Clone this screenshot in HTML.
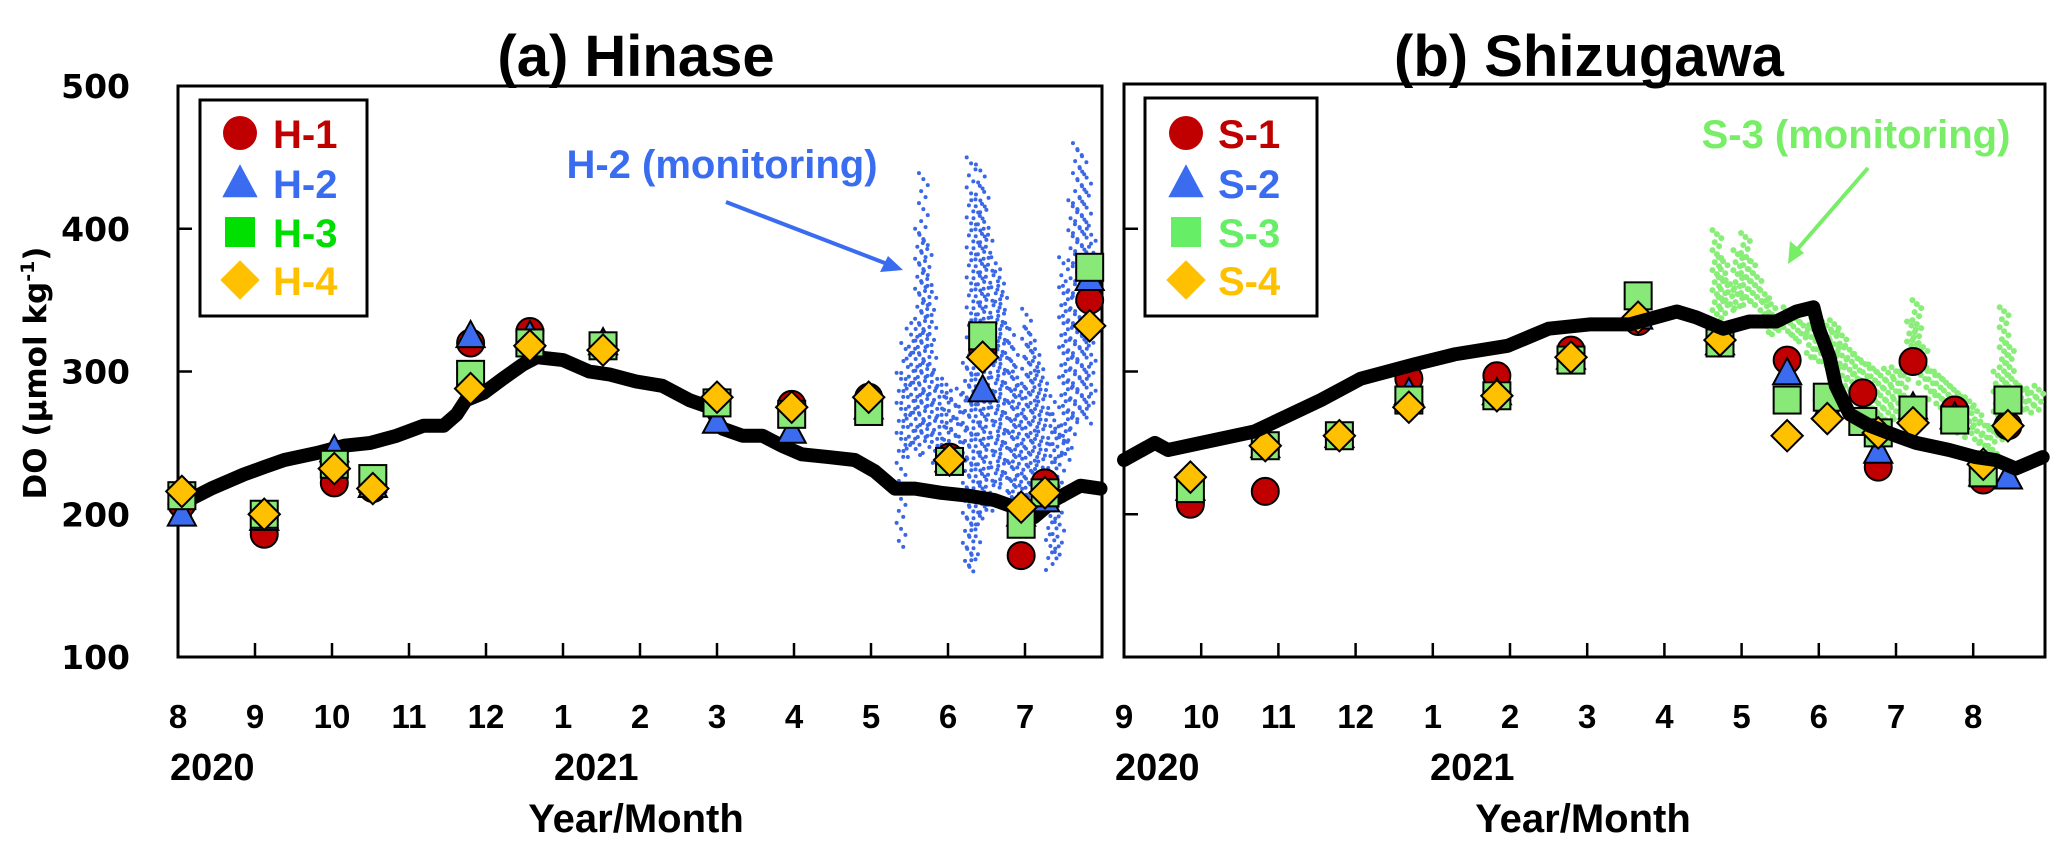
<!DOCTYPE html>
<html><head><meta charset="utf-8"><style>
html,body{margin:0;padding:0;background:#fff;}
svg{display:block;}
text{font-family:"Liberation Sans",sans-serif;font-weight:bold;}
</style></head><body>
<svg id="chart" width="2067" height="858" viewBox="0 0 2067 858" xmlns="http://www.w3.org/2000/svg">
<rect x="0" y="0" width="2067" height="858" fill="#fff"/>
<text x="636" y="76" text-anchor="middle" font-size="58">(a) Hinase</text>
<text x="1589" y="76" text-anchor="middle" font-size="58">(b) Shizugawa</text>
<text transform="translate(46,373) rotate(-90)" text-anchor="middle" font-size="31" style="font-family:'DejaVu Sans',sans-serif">DO (µmol kg<tspan font-size="19" dy="-12">-1</tspan><tspan dy="12">)</tspan></text>
<text x="636" y="832" text-anchor="middle" font-size="40">Year/Month</text>
<text x="1583" y="832" text-anchor="middle" font-size="40">Year/Month</text>
<text x="170" y="780" font-size="38">2020</text>
<text x="554" y="780" font-size="38">2021</text>
<text x="1115" y="780" font-size="38">2020</text>
<text x="1430" y="780" font-size="38">2021</text>
<g id="gL"></g>
<g id="gR"></g>
<text x="722" y="178" text-anchor="middle" font-size="40" fill="#3a6cf0">H-2 (monitoring)</text>
<line x1="726" y1="202" x2="890" y2="265" stroke="#3a6cf0" stroke-width="4"/>
<polygon points="903,270 880,272 888,256" fill="#3a6cf0"/>
<text x="1856" y="148" text-anchor="middle" font-size="40" fill="#77ee66">S-3 (monitoring)</text>
<line x1="1868" y1="168" x2="1795" y2="252" stroke="#77ee66" stroke-width="4"/>
<polygon points="1788,264 1790,241 1804,253" fill="#77ee66"/>
</svg>
<script>
// ---- data ----
const yTicks=[200,300,400];
const yTickLabels=["100","200","300","400","500"];
const monthLabelsL=["8","9","10","11","12","1","2","3","4","5","6","7"];
const monthLabelsR=["9","10","11","12","1","2","3","4","5","6","7","8"];
// Hinase (t = months since Aug 1 2020)
const hT=[0.05,1.12,2.03,2.53,3.8,4.57,5.52,7.0,7.97,8.97,10.02,10.45,10.95,11.26,11.84];
const h1=[207,186,222,218,320,328,318,280,277,282,240,315,171,222,350];
const h2=[200,197,245,220,325,325,320,265,258,275,238,287,200,210,365];
const h3=[213,200,235,225,298,320,318,278,270,272,237,325,193,215,373];
const h4=[216,200,232,218,288,318,315,282,275,282,238,310,205,215,332];
const hLineT=[0.03,0.43,0.86,1.12,1.38,1.81,2.16,2.5,2.84,3.19,3.45,3.62,3.74,3.97,4.22,4.48,4.66,5.0,5.34,5.6,5.95,6.29,6.64,6.9,7.07,7.33,7.59,7.84,8.1,8.45,8.79,9.05,9.31,9.57,9.91,10.26,10.6,10.86,11.12,11.38,11.72,11.98];
const hLineV=[207,218,228,233,238,243,248,250,255,262,262,270,280,285,295,305,310,308,300,298,293,290,280,275,260,255,255,248,242,240,238,230,218,218,215,213,210,205,198,210,220,218];
const monT=[9.39,9.45,9.52,9.58,9.63,9.68,9.73,9.79,9.86,9.92,9.98,10.04,10.1,10.17,10.25,10.3,10.36,10.42,10.47,10.52,10.62,10.67,10.71,10.8,10.85,10.9,10.95,11.02,11.07,11.13,11.18,11.23,11.33,11.38,11.45,11.5,11.55,11.62,11.68,11.74,11.8,11.86];
const monLo=[177,240,245,240,245,252,240,250,233,236,232,238,240,235,159,159,165,190,195,200,217,215,220,206,208,210,212,206,200,195,205,206,159,165,170,240,235,250,264,270,260,270];
const monHi=[299,320,330,334,400,439,390,360,299,290,295,285,280,288,306,450,420,445,430,400,380,370,360,334,320,300,290,344,330,320,310,300,287,270,260,380,360,420,460,455,440,400];
// Shizugawa
const sT=[1.86,2.83,3.79,4.69,5.83,6.79,7.66,8.72,9.59,10.11,10.57,10.77,11.22,11.76,12.13,12.45];
const s1=[207,216,255,295,297,315,335,320,308,280,285,233,307,273,224,262];
const s2=[218,248,255,285,285,310,338,320,299,275,null,244,275,268,228,226];
const s3=[218,248,255,280,283,308,353,320,280,282,265,257,273,266,229,280];
const s4=[226,248,255,275,283,310,338,322,255,267,null,257,264,null,235,262];
const sLineT=[1.0,1.4,1.57,2.0,2.69,3.55,4.07,4.76,5.28,5.97,6.5,7.03,7.55,8.16,8.41,8.76,9.1,9.45,9.71,9.93,10.0,10.14,10.22,10.4,10.66,11.0,11.26,11.69,12.03,12.29,12.55,12.9];
const sLineV=[238,250,245,250,258,280,295,305,312,318,330,333,333,342,338,330,335,335,342,345,330,310,290,270,262,255,250,245,240,238,232,240];
const gT=[8.68,8.76,8.85,8.95,9.05,9.12,9.2,9.3,9.38,9.45,9.6,9.7,9.8,9.9,10.0,10.1,10.2,10.3,10.4,10.5,10.6,10.7,10.8,10.9,11.0,11.1,11.2,11.27,11.35,11.45,11.55,11.65,11.75,11.85,11.95,12.05,12.15,12.25,12.32,12.4,12.47,12.55,12.65,12.75,12.85];
const gLo=[336,340,343,342,345,344,345,330,326,324,324,322,320,310,305,303,298,290,282,276,272,268,265,264,265,270,300,303,290,280,272,270,262,256,252,248,238,235,250,265,275,275,272,270,272];
const gHi=[399,380,364,385,397,380,369,357,350,340,345,340,335,341,338,335,336,328,318,312,308,305,300,302,303,300,335,350,320,303,300,295,290,285,282,275,265,262,300,345,320,295,290,288,290];

// ---- scales ----
const NS="http://www.w3.org/2000/svg";
const Y0=657,Y1=86;
function yS(v){return Y0-(v-100)*(Y0-Y1)/400;}
function xL(t){return 178+t*77;}
function xR(t){return 1124+(t-1)*77.2;}
function mk(tag,parent,attrs){const e=document.createElementNS(NS,tag);for(const k in attrs)e.setAttribute(k,attrs[k]);parent.appendChild(e);return e;}
const svg=document.getElementById('chart');
const gL=document.getElementById('gL'),gR=document.getElementById('gR');

function axes(g,x0,x1,xs,ticksT,labels,labT,withYLabels,side){
  let r=mk('rect',g,{x:x0,y:(side==='l'?86:84),width:x1-x0,height:657-(side==='l'?86:84),fill:'none',stroke:'#000','stroke-width':3});
  
  
  yTicks.forEach(v=>{
    let l=mk('line',g,{x1:x0,x2:x0+14,y1:yS(v),y2:yS(v),stroke:'#000','stroke-width':2.5});
    
    
  });
  ticksT.forEach(t=>{
    let l=mk('line',g,{x1:xs(t),x2:xs(t),y1:657,y2:643,stroke:'#000','stroke-width':2.5});
    
    
  });
  labels.forEach((s,i)=>{
    let tx=mk('text',g,{x:xs(labT[i]),y:728,'text-anchor':'middle','font-size':33});
    tx.textContent=s;
    
    
  });
  if(withYLabels){
    yTickLabels.forEach(s=>{
      let tx=mk('text',g,{x:130,y:yS(+s)+12,'text-anchor':'end','font-size':33,style:"font-family:'DejaVu Sans',sans-serif"});
      tx.textContent=s;
      
      
    });
  }
}
axes(gL,178,1102,xL,[1,2,3,4,5,6,7,8,9,10,11],monthLabelsL,[0,1,2,3,4,5,6,7,8,9,10,11],true,'l');
axes(gR,1124,2045,xR,[2,3,4,5,6,7,8,9,10,11,12],monthLabelsR,[1,2,3,4,5,6,7,8,9,10,11,12],false,'r');

// monitoring streaks
function streaks(g,xs,T,lo,hi,col,r,step,name){
  T.forEach((t,i)=>{
    const ya=yS(hi[i]),yb=yS(lo[i]);
    let k=0;
    for(let y=ya;y<=yb;y+=step){
      const dx=((k*7)%5-2)*2.2;k++;
      let c=mk('circle',g,{cx:xs(t)+dx,cy:y,r:r,fill:col});
      
      
    }
  });
}
streaks(gL,xL,monT,monLo,monHi,'#3a66e8',2,6,'h2-monitoring-point');
streaks(gR,xR,gT,gLo,gHi,'#88ee77',3,4,'s3-monitoring-point');

// black lines
function bline(g,xs,T,V,name){
  let d=T.map((t,i)=>(i?'L':'M')+xs(t).toFixed(1)+','+yS(V[i]).toFixed(1)).join(' ');
  let p=mk('path',g,{d:d,fill:'none',stroke:'#000','stroke-width':14,'stroke-linejoin':'round','stroke-linecap':'round'});
  
  
}

// markers
function marker(g,type,cx,cy,s,fill,stroke){
  let e;
  if(type==='c')e=mk('circle',g,{cx:cx,cy:cy,r:s/2});
  else if(type==='t')e=mk('polygon',g,{points:`${cx},${cy-s*0.55} ${cx+s*0.52},${cy+s*0.42} ${cx-s*0.52},${cy+s*0.42}`});
  else if(type==='s')e=mk('rect',g,{x:cx-s/2,y:cy-s/2,width:s,height:s});
  else e=mk('polygon',g,{points:`${cx},${cy-s*0.58} ${cx+s*0.58},${cy} ${cx},${cy+s*0.58} ${cx-s*0.58},${cy}`});
  e.setAttribute('fill',fill);
  if(stroke){e.setAttribute('stroke','#000');e.setAttribute('stroke-width',2);}
  return e;
}
const cols={c:'#c00000',t:'#3b6cf0',s:'#88e878',d:'#ffc000'};
function series(g,xs,T,V,type,name){
  T.forEach((t,i)=>{
    if(V[i]==null)return;
    let e=marker(g,type,xs(t),yS(V[i]),27,cols[type],true);
    
    
  });
}
bline(gL,xL,hLineT,hLineV,'hinase-daily-line');
series(gL,xL,hT,h1,'c','h1-point');
series(gL,xL,hT,h2,'t','h2-point');
series(gL,xL,hT,h3,'s','h3-point');
series(gL,xL,hT,h4,'d','h4-point');
series(gR,xR,sT,s1,'c','s1-point');
series(gR,xR,sT,s2,'t','s2-point');
series(gR,xR,sT,s3,'s','s3-point');
series(gR,xR,sT,s4,'d','s4-point');
bline(gR,xR,sLineT,sLineV,'shizugawa-daily-line');

// legends
function legend(x0,y0,w,h,mx,tx,labels,txtCols,name){
  let g=mk('g',svg,{});
  
  
  let r=mk('rect',g,{x:x0,y:y0,width:w,height:h,fill:'#fff',stroke:'#000','stroke-width':3});
  
  
  const rows=[133,183,232,280];
  const types=['c','t','s','d'];
  const mcols=['#c00000','#3b6cf0','#00e000','#ffc000'];
  rows.forEach((y,i)=>{
    let m=marker(g,types[i],mx,y,types[i]==='s'?30:34,i===2&&name.startsWith('s')?'#66ee66':mcols[i],false);
    
    
    let t=mk('text',g,{x:tx,y:y+15,'font-size':40,fill:txtCols[i]});
    t.textContent=labels[i];
    
    
  });
}
legend(200,100,167,216,240,273,['H-1','H-2','H-3','H-4'],['#c00000','#3a6cf0','#00dd00','#ffc000'],'hinase-legend');
legend(1145,98,172,218,1186,1218,['S-1','S-2','S-3','S-4'],['#c00000','#3a6cf0','#66ee66','#ffc000'],'shizugawa-legend');
</script>
</body></html>
